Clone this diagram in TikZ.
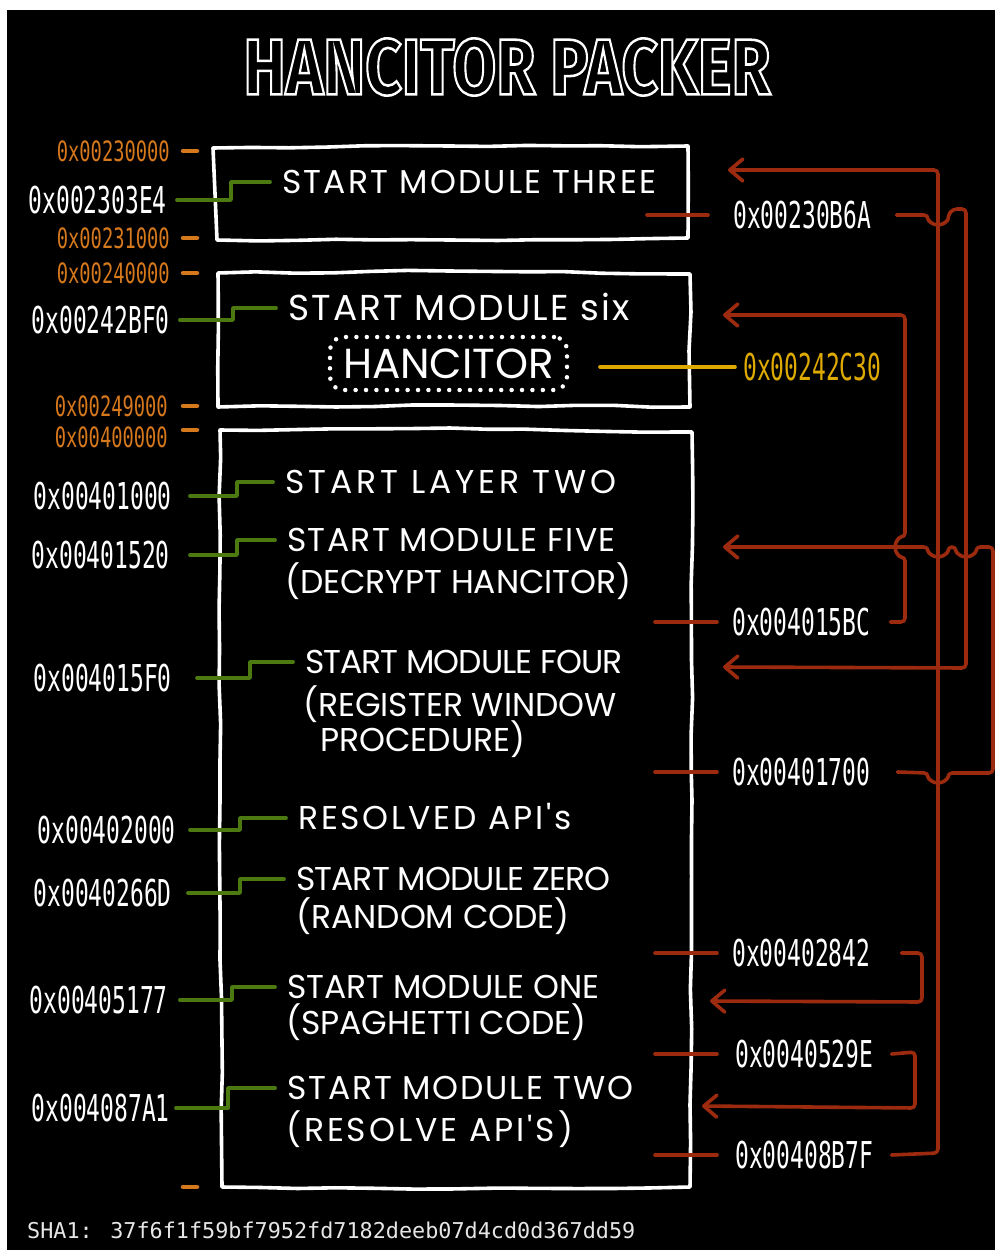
\documentclass[tikz,border=0pt]{standalone}
\usepackage{fontspec}
\usepackage{graphicx}
\usetikzlibrary{arrows.meta,decorations.pathmorphing,calc}
\newfontfamily\handfont{Poppins}
\newfontfamily\addrfont[FakeStretch=0.62]{DejaVu Sans Mono}
\newfontfamily\addrfontb[FakeStretch=0.67]{DejaVu Sans Mono}
\newfontfamily\shafont{DejaVu Sans Mono}
\newfontfamily\titlefont{Fira Sans}
\definecolor{orng}{RGB}{214,120,28}
\definecolor{grn}{RGB}{76,122,16}
\definecolor{jred}{RGB}{155,42,15}
\definecolor{ylw}{RGB}{222,170,0}
\definecolor{shagray}{RGB}{230,230,230}
\newcommand\gstep[4]{\draw[greenstep] ([xshift=#3pt]#1.east) -| ([xshift=-#4pt]#2.west) -- ([xshift=-12pt]#2.west);}
\newcommand\ls[1]{\addfontfeatures{LetterSpace=#1}}
\newcommand\titletxt{\resizebox{527pt}{56pt}{\special{pdf:literal direct 1 Tr 2.6 w 1 1 1 RG}\titlefont\fontsize{80}{90}\selectfont\bfseries HANCITOR PACKER\special{pdf:literal direct 0 Tr}}}
\pgfmathsetseed{7}
\begin{document}
\begin{tikzpicture}[x=1pt,y=-1pt,
 hbox/.style={draw=white, line width=3.6pt, line join=round, line cap=round, decorate, decoration={random steps, segment length=38pt, amplitude=1pt}},
 modtext/.style={text=white, font=\handfont\fontsize{33}{38}\selectfont, anchor=west, inner sep=0pt, text height=23pt, text depth=0pt},
 addrw/.style={text=white, font=\addrfont\fontsize{37}{40}\selectfont, inner sep=0pt, text height=27pt, text depth=0pt},
 addro/.style={text=orng, font=\addrfontb\fontsize{28}{30}\selectfont, inner sep=0pt, text height=20.5pt, text depth=0pt, anchor=east},
 odash/.style={draw=orng, line width=4.5pt, line cap=round},
 greenstep/.style={draw=grn, line width=3.8pt, line cap=round, line join=round},
 jline/.style={draw=jred, line width=3.6pt, line cap=round, line join=round, rounded corners=4pt},
 jarrow/.style={jline, -{Straight Barb[length=13pt, width=22pt, line width=3.6pt, round]}},
 yline/.style={draw=ylw, line width=3.6pt, line cap=round}]
\useasboundingbox (0,0) rectangle (995,1250);
\fill[white] (0,0) rectangle (995,1250);
\fill[black] (7,10) rectangle (995,1250);
% title
\node[inner sep=0pt, text=black] (title) at (507,67) {\titletxt};
% boxes
\draw[hbox] (213,148) -- (450,146) -- (688,146) -- (688,238) -- (450,240) -- (217,240) -- cycle;
\draw[hbox] (218,273) -- (450,271) -- (690,274) -- (690,407) -- (450,405) -- (218,407) -- cycle;
\draw[hbox] (220,430) -- (450,428) -- (692,432) -- (692,800) -- (690,1187) -- (450,1189) -- (222,1187) -- (220,800) -- cycle;
% orange addresses
\node[addro] (o1) at (170,151) {0x00230000};
\node[addro] (o2) at (170,238) {0x00231000};
\node[addro] (o3) at (170,273) {0x00240000};
\node[addro] (o4) at (168,406) {0x00249000};
\node[addro] (o5) at (168,437) {0x00400000};
\draw[odash] ([xshift=13pt]o1.east) -- ++(14,0);
\draw[odash] ([xshift=13pt]o2.east) -- ++(14,0);
\draw[odash] ([xshift=13pt]o3.east) -- ++(14,0);
\draw[odash] ([xshift=15pt]o4.east) -- ++(14,0);
\draw[odash] ([shift={(15,-7)}]o5.east) -- ++(14,0);
\coordinate (oend) at (183,1187);
\draw[odash] (oend) -- ++(14,0);
% module texts
\node[modtext] (m3) at (282,182) {\ls{6.7}START MODULE THREE};
\node[modtext, font=\handfont\fontsize{36}{40}\selectfont, text height=25pt] (m6) at (288,308) {\ls{6}START MODULE six};
\node[draw=white, line width=4.5pt, dash pattern=on 0pt off 10.4pt, line cap=round, rounded corners=13pt, minimum width=237pt, minimum height=53pt, inner sep=0pt, text=white, font=\handfont\fontsize{42}{46}\selectfont] (hanc) at (448.5,363.5) {HANCITOR};
\node[modtext] (l2) at (285,482) {\ls{12}START LAYER TWO};
\node[modtext] (m5a) at (287,540) {\ls{4}START MODULE FIVE};
\node[modtext] (m5b) at (285,582) {(DECRYPT HANCITOR)};
\node[modtext] (m4a) at (305,662) {\ls{-3}START MODULE FOUR};
\node[modtext] (m4b) at (303,705) {(REGISTER WINDOW};
\node[modtext] (m4c) at (320,740) {PROCEDURE)};
\node[modtext] (api) at (298,818) {\ls{8.4}RESOLVED API's};
\node[modtext] (m0a) at (296,879) {\ls{-2.8}START MODULE ZERO};
\node[modtext] (m0b) at (296,917) {(RANDOM CODE)};
\node[modtext] (m1a) at (287,987) {START MODULE ONE};
\node[modtext] (m1b) at (286,1023) {(SPAGHETTI CODE)};
\node[modtext] (m2a) at (287,1088) {\ls{5.6}START MODULE TWO};
\node[modtext] (m2b) at (286,1130) {\ls{8.9}(RESOLVE API'S)};
% white left addresses
\node[addrw, anchor=east] (a3) at (167,200) {0x002303E4};
\node[addrw, anchor=east] (a6) at (170,320) {0x00242BF0};
\node[addrw, anchor=east] (aL) at (172,496) {0x00401000};
\node[addrw, anchor=east] (a5) at (170,555) {0x00401520};
\node[addrw, anchor=east] (a4) at (172,678) {0x004015F0};
\node[addrw, anchor=east] (aA) at (176,830) {0x00402000};
\node[addrw, anchor=east] (a0) at (172,893) {0x0040266D};
\node[addrw, anchor=east] (a1) at (168,1000) {0x00405177};
\node[addrw, anchor=east] (a2) at (170,1108) {0x004087A1};
% green steps
\gstep{a3}{m3}{10}{51}
\gstep{a6}{m6}{10}{55}
\gstep{aL}{l2}{18}{48}
\gstep{a5}{m5a}{20}{50}
\gstep{a4}{m4a}{25}{55}
\gstep{aA}{api}{14}{58}
\gstep{a0}{m0a}{16}{56}
\gstep{a1}{m1a}{12}{55}
\gstep{a2}{m2a}{6}{59}
% right addresses
\node[addrw, anchor=west] (r3) at (733,215) {0x00230B6A};
\node[addrw, anchor=west, text=ylw] (rY) at (743,367) {0x00242C30};
\node[addrw, anchor=west] (r5) at (732,622) {0x004015BC};
\node[addrw, anchor=west] (r4) at (732,772) {0x00401700};
\node[addrw, anchor=west] (r0) at (732,953) {0x00402842};
\node[addrw, anchor=west] (r1) at (735,1054) {0x0040529E};
\node[addrw, anchor=west] (r2) at (735,1155) {0x00408B7F};
% red ticks
\draw[jline] ([xshift=-25pt]r3.west) -- ++(-61,0);
\draw[jline] ([xshift=-15pt]r5.west) -- ++(-62,0);
\draw[jline] ([xshift=-15pt]r4.west) -- ++(-62,0);
\draw[jline] ([xshift=-15pt]r0.west) -- ++(-62,0);
\draw[jline] ([xshift=-18pt]r1.west) -- ++(-62,0);
\draw[jline] ([xshift=-18pt]r2.west) -- ++(-62,0);
% yellow
\coordinate (ys) at (600,367);
\draw[yline] (ys) -- ([xshift=-8pt]rY.west);
% arrow targets
\coordinate (in3) at (728,170);
\coordinate (in6) at (723,315);
\coordinate (in5) at (723,547);
\coordinate (in4) at (723,667);
\coordinate (in1) at (710,1001);
\coordinate (in2) at (702,1106);
% jumps
\draw[jarrow] ([xshift=18pt]r2.east) -- (938,1153) -- (938,170) -- (in3);
\draw[jarrow] ([xshift=25pt]r3.east) -- (928,215) arc[start angle=180, end angle=0, radius=10] -- (953,209) -- (966,209) -- (966,668) -- (in4);
\draw[jarrow] ([xshift=20pt]r5.east) -- (905,622) -- (905,557) arc[start angle=90, end angle=270, radius=10] -- (905,315) -- (in6);
\draw[jarrow] ([xshift=27pt]r4.east) -- (928,773) arc[start angle=180, end angle=0, radius=10] -- (993,773) -- (993,547) -- (976,547) arc[start angle=0, end angle=180, radius=10] -- (948,547) arc[start angle=0, end angle=180, radius=10] -- (in5);
\draw[jarrow] ([xshift=31pt]r0.east) -- (922,953) -- (922,1002) -- (in1);
\draw[jarrow] ([xshift=18pt]r1.east) -- (915,1052) -- (915,1108) -- (in2);
% sha
\node[anchor=west, text=shagray, font=\shafont\fontsize{21.8}{25}\selectfont, inner sep=0pt] (sha) at (27,1230) {SHA1: 37f6f1f59bf7952fd7182deeb07d4cd0d367dd59};
\end{tikzpicture}
\end{document}
